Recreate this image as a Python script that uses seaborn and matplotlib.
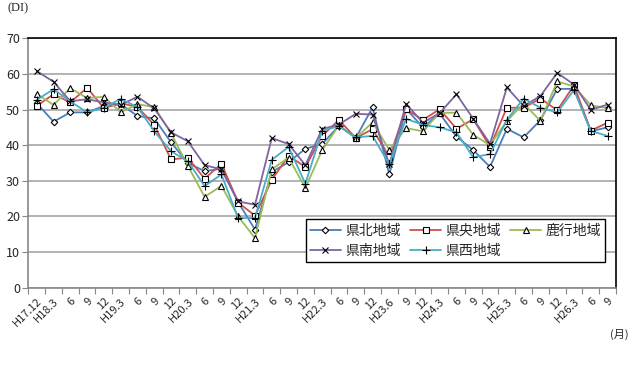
import numpy as np
import pandas as pd
import seaborn as sns
import matplotlib.pyplot as plt

# quarterly survey periods
periods = ["H17.12", "H18.3", "6", "9", "12", "H19.3", "6", "9", "12",
           "H20.3", "6", "9", "12", "H21.3", "6", "9", "12", "H22.3",
           "6", "9", "12", "H23.6", "9", "12", "H24.3", "6", "9", "12",
           "H25.3", "6", "9", "12", "H26.3", "6", "9"]

kenpoku = [51.8, 46.6, 49.2, 49.2, 51.0, 51.5, 48.2, 47.5, 40.8, 35.0,
           32.7, 33.4, 24.0, 16.3, 32.5, 35.2, 39.0, 40.3, 45.5, 42.0,
           50.6, 31.8, 50.2, 45.0, 48.9, 42.4, 38.6, 33.9, 44.6, 42.2,
           47.0, 55.8, 55.8, 43.9, 45.0]
kenou = [51.0, 54.3, 52.0, 56.1, 50.4, 51.8, 50.7, 45.7, 36.0, 36.5,
         30.6, 34.8, 23.9, 20.2, 30.3, 37.0, 33.9, 42.6, 47.1, 42.0,
         44.5, 36.7, 50.1, 47.1, 50.1, 44.6, 47.3, 39.5, 50.5, 50.5,
         53.1, 49.8, 56.8, 44.1, 46.3]
rokko = [54.4, 51.3, 56.0, 53.2, 53.6, 49.2, 51.5, 50.7, 43.3, 34.2,
         25.5, 28.6, 20.0, 13.9, 33.2, 36.5, 28.0, 38.6, 45.6, 42.0,
         46.4, 38.7, 44.8, 43.9, 49.1, 49.1, 42.9, 40.0, 46.8, 51.7,
         46.8, 57.9, 56.5, 51.2, 50.4]
kennan = [60.8, 57.8, 52.3, 52.9, 52.0, 51.3, 53.6, 50.3, 43.6, 41.1,
          34.4, 33.2, 24.2, 23.3, 42.0, 40.3, 34.4, 44.5, 45.8, 48.8,
          48.6, 34.6, 51.6, 46.3, 49.0, 54.3, 47.4, 40.4, 56.2, 51.0,
          53.8, 60.3, 57.0, 49.9, 51.4]
kensei = [52.7, 55.7, 52.3, 49.2, 50.5, 53.0, 50.7, 43.9, 38.3, 35.5,
          28.5, 31.8, 19.5, 19.6, 35.9, 39.5, 29.2, 44.1, 45.3, 42.2,
          42.6, 34.6, 47.4, 45.7, 45.0, 43.6, 36.6, 37.5, 47.1, 53.1,
          50.5, 49.2, 55.5, 44.0, 42.6]

regions = ["県北地域", "県央地域", "鹿行地域", "県南地域", "県西地域"]
series = [kenpoku, kenou, rokko, kennan, kensei]
colors = ["#4a7ebb", "#d0504d", "#9bbb59", "#8064a2", "#4bacc6"]
markers = ["D", "s", "^", "x", "+"]
msizes = [3.3, 4.6, 4.6, 4.6, 5.5]

sns.set_theme(style="white")
plt.rcParams["font.family"] = ["Noto Sans CJK JP", "DejaVu Sans"]

fig = plt.figure(figsize=(6.31, 3.66), dpi=100)
ax = fig.add_axes([0.0449, 0.2139, 0.9313, 0.6815])

x = np.arange(len(periods))
lines = {}
for name, vals, c, m, ms in zip(regions, series, colors, markers, msizes):
    df = pd.DataFrame({"x": x, "DI": vals})
    sns.lineplot(data=df, x="x", y="DI", ax=ax, color=c, linewidth=1.3,
                 marker=m, markersize=ms, markerfacecolor="white",
                 markeredgecolor="black", markeredgewidth=0.8, label=name,
                 legend=False)
    lines[name] = ax.lines[-1]

ax.set_xlim(-0.5, len(periods) - 0.5)
ax.set_ylim(0, 70)
ax.set_yticks(range(0, 71, 10))
ax.yaxis.grid(True, color="#a6a6a6", linewidth=1.2)
ax.set_axisbelow(True)

# ticks between categories, labels at category centres
ax.set_xticks(np.arange(len(periods) + 1) - 0.5)
ax.set_xticklabels([])
ax.set_xticks(x, minor=True)
ax.set_xticklabels(periods, minor=True, rotation=45, ha="right",
                   rotation_mode="anchor", fontsize=8)
ax.tick_params(axis="x", which="major", length=4, width=0.8, color="#888888",
               direction="out", bottom=True)
ax.tick_params(axis="x", which="minor", length=0, pad=6)
ax.tick_params(axis="y", length=4, width=0.8, color="#888888",
               direction="out", left=True, labelsize=9, pad=2)
ax.set_xlabel("")
ax.set_ylabel("")

for s in ["left", "bottom"]:
    ax.spines[s].set_color("#888888")
    ax.spines[s].set_linewidth(1.2)
for s in ["top", "right"]:
    ax.spines[s].set_color("black")
    ax.spines[s].set_linewidth(1.2)

order = ["県北地域", "県南地域", "県央地域", "県西地域", "鹿行地域"]
leg = ax.legend([lines[n] for n in order], order, ncol=3, loc="lower left",
                bbox_to_anchor=(0.4725, 0.103, 0.5085, 0.1885), mode="expand",
                fontsize=10, handlelength=2.2, handletextpad=0.3,
                borderaxespad=0, frameon=True, fancybox=False,
                framealpha=1, edgecolor="black", borderpad=0.3,
                labelspacing=0.45)
leg.get_frame().set_linewidth(1.0)

fig.text(8 / 631, 1 - 8 / 366, "(DI)", fontsize=9, va="center", ha="left",
         family=["Liberation Serif", "DejaVu Serif"])
fig.text(629 / 631, 1 - 334 / 366, "(月)", fontsize=8, va="center",
         ha="right")

fig.savefig("out.png", dpi=100)
